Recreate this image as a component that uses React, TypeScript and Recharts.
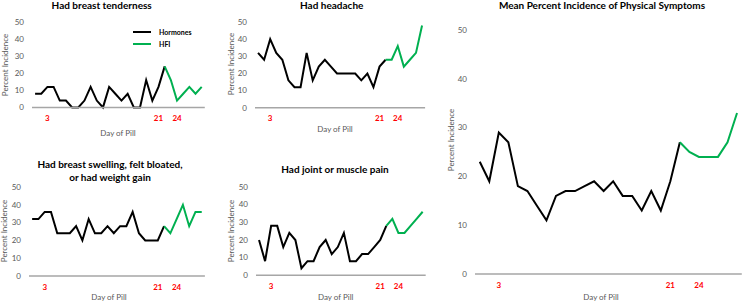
import React from 'react';
import { LineChart, Line, XAxis, YAxis, Legend } from 'recharts';

const DAYS = [1, 2, 3, 4, 5, 6, 7, 8, 9, 10, 11, 12, 13, 14, 15, 16, 17, 18, 19, 20, 21, 22, 23, 24, 25, 26, 27, 28];
const DAY_TICKS = [3, 21, 24];
const PCT_TICKS = [0, 10, 20, 30, 40, 50];
const SERIES_ORDER = ['Hormones', 'HFI'];

// hormone days 1-22, HFI days 22-28 (shares the day-22 point)
const tendernessHormones = [8, 8, 12, 12, 4, 4, 0, 0, 4, 12, 4, 0, 12, 8, 4, 8, 0, 0, 16, 4, 12, 24];
const tendernessHfi = [24, 16, 4, 8, 12, 8, 12];
const headacheHormones = [32, 28, 40, 32, 28, 16, 12, 12, 32, 16, 24, 28, 24, 20, 20, 20, 20, 16, 20, 12, 24, 28];
const headacheHfi = [28, 28, 36, 24, 28, 32, 48];
const swellingHormones = [32, 32, 36, 36, 24, 24, 24, 28, 20, 32, 24, 24, 28, 24, 28, 28, 36, 24, 20, 20, 20, 28];
const swellingHfi = [28, 24, 32, 40, 28, 36, 36];
const painHormones = [20, 8, 28, 28, 16, 24, 20, 4, 8, 8, 16, 20, 12, 16, 24, 8, 8, 12, 12, 16, 20, 28];
const painHfi = [28, 32, 24, 24, 28, 32, 36];
const meanHormones = [23, 19, 29, 27, 18, 17, 14, 11, 16, 17, 17, 18, 19, 17, 19, 16, 16, 13, 17, 13, 19, 27];
const meanHfi = [27, 25, 24, 24, 24, 27, 33];

const HFI_START = 22;
const FONT = 'Lato, "Open Sans", sans-serif';
const GRAY = '#595959';

type Row = { day: number; hormones: number | null; hfi: number | null };

const buildRows = (hormones: number[], hfi: number[]): Row[] =>
  DAYS.map((day, i) => ({
    day,
    hormones: i < hormones.length ? hormones[i] : null,
    hfi: day >= HFI_START ? hfi[day - HFI_START] : null,
  }));

type Plot = { x0: number; x1: number; y0: number; y1: number };

const LegendBox = ({ payload }: any) => {
  const items = [...(payload || [])].sort(
    (a: any, b: any) => SERIES_ORDER.indexOf(a.value) - SERIES_ORDER.indexOf(b.value)
  );
  return (
    <div style={{ fontSize: 7, fontWeight: 700, color: '#000' }}>
      {items.map((p: any) => (
        <div key={p.value} style={{ display: 'flex', alignItems: 'center', height: 12 }}>
          <span style={{ display: 'inline-block', width: 18, height: 2, background: p.color, marginRight: 8 }} />
          {p.value}
        </div>
      ))}
    </div>
  );
};

const Panel = ({ rows, plot, legendAt }: { rows: Row[]; plot: Plot; legendAt?: [number, number] }) => {
  const left = plot.x0 - 40;
  const top = plot.y0 - 10;
  const width = plot.x1 - left + 4;
  const height = plot.y1 - top + 30;
  return (
    <div style={{ position: 'absolute', left, top }}>
      <LineChart width={width} height={height} data={rows} margin={{ top: 10, right: 4, bottom: 0, left: 0 }}>
        <XAxis
          type="number"
          dataKey="day"
          domain={[0.5, 28.5]}
          ticks={DAY_TICKS}
          interval={0}
          height={30}
          axisLine={{ stroke: '#a6a6a6', strokeWidth: 1.5 }}
          tickLine={false}
          tick={{ fill: '#ff0000', fontSize: 8, fontWeight: 700 }}
        />
        <YAxis
          domain={[0, 50]}
          ticks={PCT_TICKS}
          interval={0}
          width={40}
          axisLine={false}
          tickLine={false}
          tick={{ fill: GRAY, fontSize: 8 }}
        />
        {legendAt && (
          <Legend
            layout="vertical"
            align="center"
            verticalAlign="middle"
            content={<LegendBox />}
            wrapperStyle={{ left: legendAt[0] - left, top: legendAt[1] - top, width: 'auto' }}
          />
        )}
        <Line dataKey="hormones" name="Hormones" stroke="#000000" strokeWidth={2} dot={false} isAnimationActive={false} />
        <Line dataKey="hfi" name="HFI" stroke="#00b050" strokeWidth={2} dot={false} isAnimationActive={false} />
      </LineChart>
    </div>
  );
};

const Txt = ({ x, y, size, bold, color, rotate, children }: any) => (
  <div
    style={{
      position: 'absolute',
      left: x,
      top: y,
      transform: `translate(-50%, -50%)${rotate ? ' rotate(-90deg)' : ''}`,
      fontSize: size,
      fontWeight: bold ? 700 : 400,
      color: color || GRAY,
      whiteSpace: 'nowrap',
      textAlign: 'center',
      lineHeight: '12.7px',
    }}
  >
    {children}
  </div>
);

export default function App() {
  return (
    <div
      style={{
        position: 'absolute',
        left: 0,
        top: 0,
        width: 742,
        height: 302,
        background: '#fff',
        overflow: 'hidden',
        fontFamily: FONT,
      }}
    >
      <Panel rows={buildRows(tendernessHormones, tendernessHfi)} plot={{ x0: 31.7, x1: 204.5, y0: 22.3, y1: 107.7 }} legendAt={[133, 26.3]} />
      <Panel rows={buildRows(headacheHormones, headacheHfi)} plot={{ x0: 254.6, x1: 424.7, y0: 21.5, y1: 107.3 }} />
      <Panel rows={buildRows(swellingHormones, swellingHfi)} plot={{ x0: 29.2, x1: 205.1, y0: 186.7, y1: 275.7 }} />
      <Panel rows={buildRows(painHormones, painHfi)} plot={{ x0: 256.3, x1: 426, y0: 186.7, y1: 275 }} />
      <Panel rows={buildRows(meanHormones, meanHfi)} plot={{ x0: 475, x1: 741.8, y0: 30, y1: 274 }} />

      <Txt x={101.7} y={5} size={10} bold color="#000">Had breast tenderness</Txt>
      <Txt x={331.7} y={5} size={10} bold color="#000">Had headache</Txt>
      <Txt x={110} y={171.3} size={10} bold color="#000">
        Had breast swelling, felt bloated,
        <br />
        or had weight gain
      </Txt>
      <Txt x={335} y={169.3} size={10} bold color="#000">Had joint or muscle pain</Txt>
      <Txt x={602} y={5} size={10} bold color="#000">Mean Percent Incidence of Physical Symptoms</Txt>

      <Txt x={5} y={65} size={8} rotate>Percent Incidence</Txt>
      <Txt x={230.7} y={64.4} size={8} rotate>Percent Incidence</Txt>
      <Txt x={4} y={231.2} size={8} rotate>Percent Incidence</Txt>
      <Txt x={230.7} y={231} size={8} rotate>Percent Incidence</Txt>
      <Txt x={451} y={140} size={8} rotate>Percent Incidence</Txt>

      <Txt x={118} y={133.3} size={8}>Day of Pill</Txt>
      <Txt x={335} y={129.3} size={8}>Day of Pill</Txt>
      <Txt x={109} y={296.7} size={8}>Day of Pill</Txt>
      <Txt x={335.7} y={296.7} size={8}>Day of Pill</Txt>
      <Txt x={601} y={296.7} size={8}>Day of Pill</Txt>
    </div>
  );
}
